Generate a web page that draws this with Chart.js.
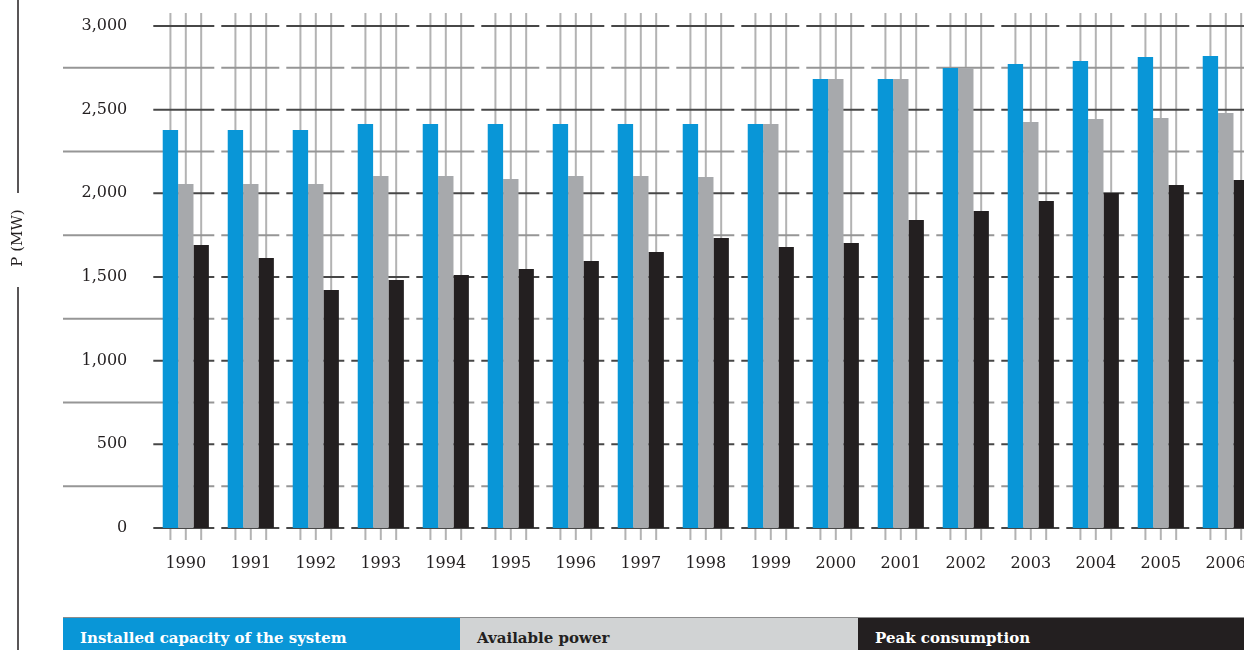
<!DOCTYPE html>
<html>
<head>
<meta charset="utf-8">
<script src="https://cdn.jsdelivr.net/npm/chart.js@4"></script>
<style>
  html, body { margin: 0; padding: 0; background: #fff; overflow: hidden; }
  #wrap { position: relative; width: 1244px; height: 650px; overflow: hidden; }
  #legend { position: absolute; left: 63px; top: 617px; width: 1200px; height: 33px;
            border-top: 1px solid #8c8c8c; display: flex; font-family: 'DejaVu Serif', serif;
            font-weight: bold; font-size: 15px; }
  #legend div { height: 32px; line-height: 40px; padding-left: 17px; box-sizing: border-box; }
</style>
</head>
<body>
<div id="wrap">
  <canvas id="chart" width="1260" height="650"></canvas>
  <div id="legend">
    <div style="width:397px;background:#0996d7;color:#fff">Installed capacity of the system</div>
    <div style="width:398px;background:#d1d3d4;color:#231f20">Available power</div>
    <div style="width:405px;background:#231f20;color:#fff">Peak consumption</div>
  </div>
</div>
<script>
const years = ['1990', '1991', '1992', '1993', '1994', '1995', '1996', '1997', '1998',
               '1999', '2000', '2001', '2002', '2003', '2004', '2005', '2006'];
const installed = [2378, 2378, 2378, 2414, 2414, 2414, 2414, 2414, 2414,
                   2414, 2683, 2683, 2749, 2773, 2791, 2815, 2821];
const available = [2056, 2056, 2056, 2104, 2104, 2086, 2104, 2104, 2098,
                   2414, 2683, 2683, 2749, 2426, 2444, 2450, 2480];
const peak = [1691, 1614, 1422, 1482, 1512, 1548, 1596, 1649, 1733,
              1679, 1703, 1841, 1894, 1954, 2002, 2050, 2080];
const seriesNames = ['Installed capacity of the system', 'Available power', 'Peak consumption'];

const font = 'DejaVu Serif';

// grid segments per category, vertical lines per bar, broken left rule with the axis title
const gridPlugin = {
  id: 'segGrid',
  beforeDatasetsDraw(chart) {
    const ctx = chart.ctx;
    const x = chart.scales.x, y = chart.scales.y;
    const area = chart.chartArea;
    ctx.save();
    // vertical lines through every bar
    ctx.strokeStyle = '#b3b3b3';
    ctx.lineWidth = 2;
    chart.data.datasets.forEach((ds, i) => {
      chart.getDatasetMeta(i).data.forEach(bar => {
        ctx.beginPath();
        ctx.moveTo(bar.x, area.top - 13);
        ctx.lineTo(bar.x, area.bottom + 12);
        ctx.stroke();
      });
    });
    // horizontal segments
    for (let v = 0; v <= 3000; v += 250) {
      const py = y.getPixelForValue(v);
      const major = v % 500 === 0;
      ctx.strokeStyle = major ? '#474747' : '#969696';
      years.forEach((yr, i) => {
        const cx = x.getPixelForValue(i);
        let x0 = cx - 29.5;
        if (i === 0) x0 = major ? area.left : 63;
        ctx.beginPath();
        ctx.moveTo(x0, py);
        ctx.lineTo(cx + 28.5, py);
        ctx.stroke();
      });
    }
    ctx.restore();
  },
  afterDraw(chart) {
    const ctx = chart.ctx;
    ctx.save();
    ctx.strokeStyle = '#231f20';
    ctx.lineWidth = 1.5;
    ctx.beginPath();
    ctx.moveTo(18, 0); ctx.lineTo(18, 193);
    ctx.moveTo(18, 287); ctx.lineTo(18, 650);
    ctx.stroke();
    ctx.translate(18, 238);
    ctx.rotate(-Math.PI / 2);
    ctx.fillStyle = '#231f20';
    ctx.font = '15px "' + font + '"';
    ctx.textAlign = 'center';
    ctx.textBaseline = 'middle';
    ctx.fillText('P (MW)', 0, 0);
    ctx.restore();
  }
};

new Chart(document.getElementById('chart'), {
  type: 'bar',
  data: {
    labels: years,
    datasets: [
      { label: seriesNames[0], data: installed, backgroundColor: '#0996d7' },
      { label: seriesNames[1], data: available, backgroundColor: '#a7a9ac' },
      { label: seriesNames[2], data: peak, backgroundColor: '#231f20' }
    ]
  },
  options: {
    responsive: false,
    animation: false,
    layout: { padding: { left: 0, right: 1.7, top: 26, bottom: 0 } },
    datasets: { bar: { categoryPercentage: 0.71, barPercentage: 1.0 } },
    plugins: { legend: { display: false }, tooltip: { enabled: false } },
    scales: {
      x: {
        grid: { display: false, drawTicks: false },
        border: { display: false },
        ticks: { padding: 26, color: '#231f20', font: { family: font, size: 16 },
                 autoSkip: false, maxRotation: 0 },
        afterFit: s => { s.height = 122; s.paddingLeft = 0; s.paddingRight = 0; }
      },
      y: {
        min: 0, max: 3000,
        grid: { display: false, drawTicks: false },
        border: { display: false },
        ticks: { stepSize: 500, padding: 26, color: '#231f20', font: { family: font, size: 16 } },
        afterFit: s => { s.width = 153.3; s.paddingTop = 0; s.paddingBottom = 0; }
      }
    }
  },
  plugins: [gridPlugin]
});
</script>
</body>
</html>
